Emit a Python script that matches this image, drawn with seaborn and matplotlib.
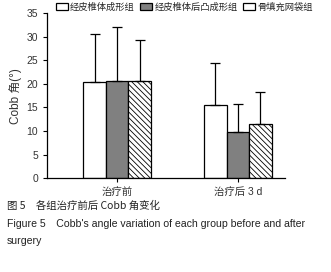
import matplotlib
matplotlib.use('Agg')
import matplotlib.pyplot as plt
import seaborn as sns
import pandas as pd
import numpy as np

# values
times = ['治疗前', '治疗后 3 d']
groups = ['经皮椎体成形组', '经皮椎体后凸成形组', '骨填充网袋组']
means_before = [20.3, 20.5, 20.5]
means_after = [15.6, 9.7, 11.4]
sd_before = [10.2, 11.5, 8.8]
sd_after = [8.8, 6.1, 6.9]

df = pd.DataFrame({
    'time': [times[0]] * 3 + [times[1]] * 3,
    'group': groups * 2,
    'cobb': means_before + means_after,
    'sd': sd_before + sd_after,
})

sns.set_style('ticks')
plt.rcParams['font.family'] = ['Liberation Sans', 'Noto Sans CJK SC']
plt.rcParams['hatch.linewidth'] = 0.6

fig = plt.figure(figsize=(3.31, 2.72), dpi=100)
ax = fig.add_axes([0.142, 0.345, 0.719, 0.607])

palette = {groups[0]: 'white', groups[1]: '#808080', groups[2]: 'white'}
sns.barplot(data=df, x='time', y='cobb', hue='group', palette=palette,
            width=0.56, gap=0, errorbar=None, edgecolor='black', linewidth=0.9,
            ax=ax, legend=True)

# hatching for third group, then upward-only error bars
hatch_map = {groups[0]: '', groups[1]: '', groups[2]: '\\\\\\\\\\\\'}
for cont, g in zip(ax.containers, groups):
    sub = df[df['group'] == g]
    for bar, (_, row) in zip(cont, sub.iterrows()):
        bar.set_hatch(hatch_map[g])
        cx = bar.get_x() + bar.get_width() / 2
        ax.errorbar(cx, row['cobb'], yerr=[[0], [row['sd']]], fmt='none',
                    ecolor='black', elinewidth=0.9, capsize=3.5, capthick=0.9,
                    zorder=1)

ax.set_xlim(-0.58, 1.39)
ax.set_ylim(0, 35)
ax.set_yticks(range(0, 36, 5))
ax.set_xlabel('')
ax.set_ylabel('Cobb 角(°)', fontsize=8.5, color='#333333', labelpad=3)
ax.tick_params(labelsize=7.5, length=3, width=0.8, colors='black',
               labelcolor='#333333')
for s in ['left', 'bottom']:
    ax.spines[s].set_linewidth(0.9)
    ax.spines[s].set_color('black')
sns.despine(ax=ax)

handles, labels = ax.get_legend_handles_labels()
ax.legend(handles, labels, ncol=3, frameon=False, fontsize=6.7,
          loc='upper left', bbox_to_anchor=(0.168, 0.99),
          bbox_transform=fig.transFigure, handlelength=1.3, handleheight=0.8,
          handletextpad=0.25, columnspacing=0.55, borderaxespad=0, borderpad=0)

fig.text(0.02, 0.243, '图 5　各组治疗前后 Cobb 角变化', fontsize=7.5, color='#222222',
         family=['Noto Sans CJK SC'], va='center')
fig.text(0.02, 0.176, "Figure 5　Cobb's angle variation of each group before and after",
         fontsize=7.55, color='#222222', family=['Liberation Sans', 'Noto Sans CJK SC'], va='center')
fig.text(0.02, 0.115, 'surgery', fontsize=7.55, color='#222222', va='center')

fig.savefig('out.png', dpi=100)
